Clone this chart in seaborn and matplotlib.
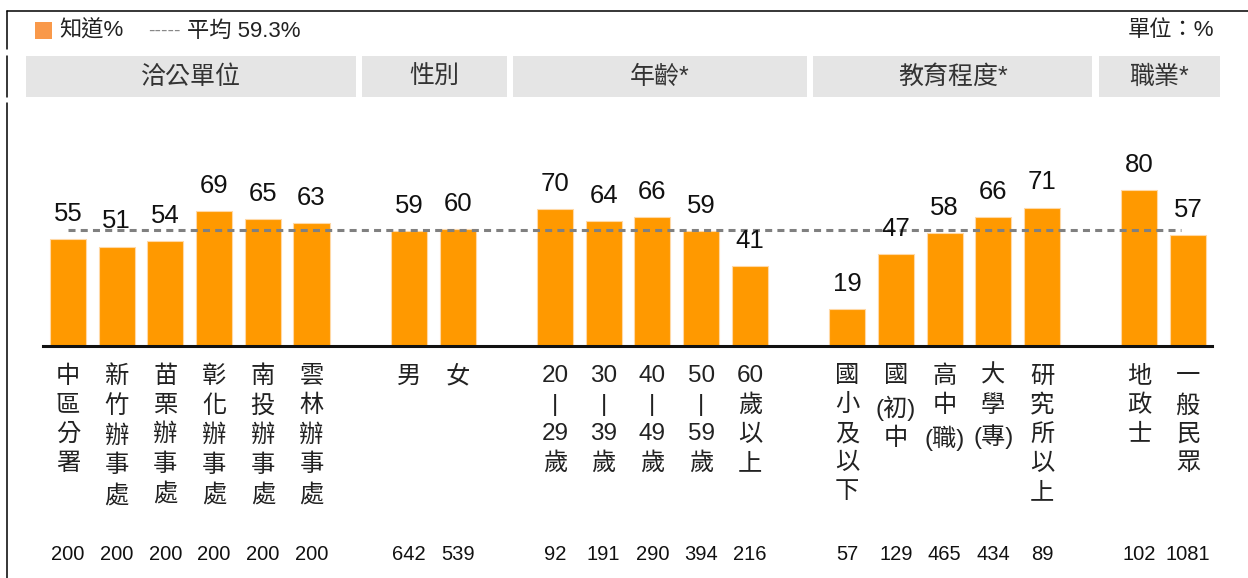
import matplotlib
matplotlib.use("Agg")
import matplotlib.pyplot as plt
import matplotlib.patches as mpatches
import matplotlib.transforms as mtransforms
from matplotlib.lines import Line2D
import pandas as pd
import seaborn as sns

# 資料
headers = ["洽公單位", "性別", "年齡*", "教育程度*", "職業*"]

labels_office = ["中\n區\n分\n署", "新\n竹\n辦\n事\n處", "苗\n栗\n辦\n事\n處",
                 "彰\n化\n辦\n事\n處", "南\n投\n辦\n事\n處", "雲\n林\n辦\n事\n處"]
values_office = [55, 51, 54, 69, 65, 63]
n_office = [200, 200, 200, 200, 200, 200]

labels_sex = ["男", "女"]
values_sex = [59, 60]
n_sex = [642, 539]

labels_age = ["20\n|\n29\n歲", "30\n|\n39\n歲", "40\n|\n49\n歲", "50\n|\n59\n歲", "60\n歲\n以\n上"]
values_age = [70, 64, 66, 59, 41]
n_age = [92, 191, 290, 394, 216]

labels_edu = ["國\n小\n及\n以\n下", "國\n(初)\n中", "高\n中\n(職)", "大\n學\n(專)", "研\n究\n所\n以\n上"]
values_edu = [19, 47, 58, 66, 71]
n_edu = [57, 129, 465, 434, 89]

labels_job = ["地\n政\n士", "一\n般\n民\n眾"]
values_job = [80, 57]
n_job = [102, 1081]

AVG = 59.3

# 組合成表格 (各組之間空一格)
all_labels = [labels_office, labels_sex, labels_age, labels_edu, labels_job]
all_values = [values_office, values_sex, values_age, values_edu, values_job]
all_n = [n_office, n_sex, n_age, n_edu, n_job]

rows = []
slot = 0
for g, (labs, vals, ns) in enumerate(zip(all_labels, all_values, all_n)):
    for lab, v, n in zip(labs, vals, ns):
        rows.append({"group": headers[g], "label": lab, "value": v, "n": n, "slot": slot})
        slot += 1
    slot += 1
df = pd.DataFrame(rows)

# 標題框的邊界 (資料座標)
header_edges = [-0.86, 5.98, 9.07, 15.23, 21.10, 23.66]

W, H = 1248, 578
sns.set_style("white")
plt.rcParams["font.family"] = ["Liberation Sans", "Noto Sans CJK TC", "DejaVu Sans"]

fig = plt.figure(figsize=(W / 100, H / 100), dpi=100)
ax = fig.add_axes([43 / W, (H - 346) / H, (1212 - 43) / W, (346 - 110) / H])

sns.barplot(data=df, x="slot", y="value", native_scale=True, width=0.74,
            color="#ff9900", saturation=1, edgecolor="#ffd9a6", linewidth=0.8,
            errorbar=None, ax=ax)

ax.set_xlim(-0.513, 23.49)
ax.set_ylim(0, 121)
ax.set_yticks([])
ax.set_xlabel("")
ax.set_ylabel("")
for s in ["top", "left", "right"]:
    ax.spines[s].set_visible(False)
ax.spines["bottom"].set_linewidth(2.2)
ax.spines["bottom"].set_color("#111111")

ax.set_xticks(df["slot"])
ax.set_xticklabels(df["label"], fontsize=17.5, linespacing=1.4, color="#222222")
ax.tick_params(axis="x", length=0, pad=14)

# 平均線
last = df["slot"].max()
ax.plot([0, last - 0.15], [AVG, AVG], color="#808080", lw=2.2,
        ls=(0, (2.3, 1.7)), zorder=3)

# 數值標籤
for _, r in df.iterrows():
    ax.annotate(str(r["value"]), (r["slot"], r["value"]), xytext=(0, 13),
                textcoords="offset points", ha="center", va="baseline",
                fontsize=18.5, color="#111111")

# 樣本數
trans = mtransforms.blended_transform_factory(ax.transData, fig.transFigure)
for _, r in df.iterrows():
    ax.text(r["slot"], 1 - 554 / H, str(r["n"]), ha="center", va="center",
            fontsize=14.5, color="#111111", transform=trans, clip_on=False)

# 分組標題
for i, h in enumerate(headers):
    left = header_edges[i] + (0.065 if i > 0 else 0)
    right = header_edges[i + 1] - (0.065 if i < len(headers) - 1 else 0)
    ax.add_patch(mpatches.Rectangle((left, 1 - 97 / H), right - left, 41 / H,
                                    transform=trans, facecolor="#e5e5e5",
                                    edgecolor="none", clip_on=False))
    ax.text((left + right) / 2, 1 - 77 / H, h, ha="center", va="center",
            fontsize=18, color="#333333", transform=trans, clip_on=False)

# 圖例
fig.add_artist(mpatches.Rectangle((35 / W, 1 - 39 / H), 17 / W, 17 / H,
                                  transform=fig.transFigure, facecolor="#f9994a",
                                  edgecolor="none"))
fig.text(59 / W, 1 - 31 / H, "知道%", va="center", fontsize=16, color="#222222")
fig.text(148 / W, 1 - 31 / H, "-----", va="center", fontsize=14, color="#888888")
fig.text(187 / W, 1 - 31 / H, "平均 59.3%", va="center", fontsize=16, color="#222222")
fig.text(1214 / W, 1 - 31 / H, "單位：%", va="center", ha="right", fontsize=16,
         color="#222222")

# 外框線
for xs, ys in [((7, W), (11, 11)), ((7, 7), (11, 49)), ((7, 7), (56, 97)), ((7, 7), (103, H))]:
    fig.add_artist(Line2D([x / W for x in xs], [1 - y / H for y in ys],
                          transform=fig.transFigure, color="black", lw=1.1))

fig.savefig("out.png", dpi=100)
